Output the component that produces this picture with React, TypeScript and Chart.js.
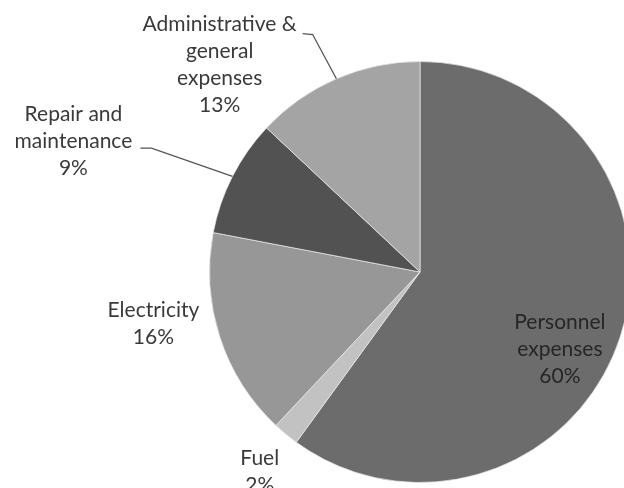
import React, { useEffect, useRef } from "react";
import { Chart, registerables } from "chart.js";

Chart.register(...registerables);

// ---- data ----
const categories = [
  "Personnel expenses",
  "Fuel",
  "Electricity",
  "Repair and maintenance",
  "Administrative & general expenses",
];
const labelLines = [
  ["Personnel", "expenses"],
  ["Fuel"],
  ["Electricity"],
  ["Repair and", "maintenance"],
  ["Administrative &", "general", "expenses"],
];
const shares = [60, 2, 16, 9, 13];

// ---- styles ----
const sliceColors = ["#6c6c6c", "#c2c2c2", "#979797", "#525252", "#a4a4a4"];
const labelColors = ["#262626", "#3a3a3a", "#3a3a3a", "#3a3a3a", "#3a3a3a"];
// label anchor: radius factor and angle offset (deg) relative to slice mid-angle
const labelPlacement = [
  { r: 0.76, a: 11 },
  { r: 1.215, a: -0.8 },
  { r: 1.29, a: 7 },
  { r: 1.76, a: -6.3 },
  { r: 1.37, a: -20.6 },
];
// leader lines: offsets from label centre
const leaders: (null | { start: number[]; elbow: number[] })[] = [
  null,
  null,
  null,
  { start: [67, 7], elbow: [78, 7] },
  { start: [83, -31], elbow: [93, -30] },
];
const FONT = '21px Lato, "Open Sans", sans-serif';
const LINE_H = 27;

const labelPlugin = {
  id: "sliceLabels",
  afterDatasetsDraw(chart: any) {
    const meta = chart.getDatasetMeta(0);
    const ctx = chart.ctx;
    ctx.save();
    ctx.font = FONT;
    ctx.textAlign = "center";
    ctx.textBaseline = "middle";
    meta.data.forEach((el: any, i: number) => {
      const p = el.getProps(["x", "y", "startAngle", "endAngle", "outerRadius"], true);
      const mid = (p.startAngle + p.endAngle) / 2;
      const pl = labelPlacement[i];
      const ang = mid + (pl.a * Math.PI) / 180;
      const lx = p.x + Math.cos(ang) * p.outerRadius * pl.r;
      const ly = p.y + Math.sin(ang) * p.outerRadius * pl.r;
      const lines = [...labelLines[i], shares[i] + "%"];
      const y0 = ly - ((lines.length - 1) * LINE_H) / 2;
      ctx.fillStyle = labelColors[i];
      lines.forEach((t, k) => ctx.fillText(t, lx, y0 + k * LINE_H));
      const ld = leaders[i];
      if (ld) {
        const ex = p.x + Math.cos(mid) * p.outerRadius;
        const ey = p.y + Math.sin(mid) * p.outerRadius;
        ctx.beginPath();
        ctx.strokeStyle = "#555555";
        ctx.lineWidth = 1.3;
        ctx.moveTo(lx + ld.start[0], ly + ld.start[1]);
        ctx.lineTo(lx + ld.elbow[0], ly + ld.elbow[1]);
        ctx.lineTo(ex, ey);
        ctx.stroke();
      }
    });
    ctx.restore();
  },
};

export default function App() {
  const ref = useRef<HTMLCanvasElement | null>(null);
  useEffect(() => {
    if (!ref.current) return;
    const chart = new Chart(ref.current, {
      type: "pie",
      data: {
        labels: categories,
        datasets: [
          {
            data: shares,
            backgroundColor: sliceColors,
            borderColor: "rgba(235,235,235,0.7)",
            borderWidth: 1,
          },
        ],
      },
      options: {
        animation: false,
        responsive: false,
        layout: { padding: { left: 209, top: 61, right: 29, bottom: 5 } },
        plugins: {
          legend: { display: false },
          tooltip: { enabled: false },
        },
      },
      plugins: [labelPlugin],
    });
    return () => chart.destroy();
  }, []);
  return (
    <div
      style={{
        position: "fixed",
        left: 0,
        top: 0,
        width: 624,
        height: 488,
        overflow: "hidden",
        background: "#ffffff",
      }}
    >
      <canvas ref={ref} width={660} height={488} style={{ width: 660, height: 488, display: "block" }} />
    </div>
  );
}
